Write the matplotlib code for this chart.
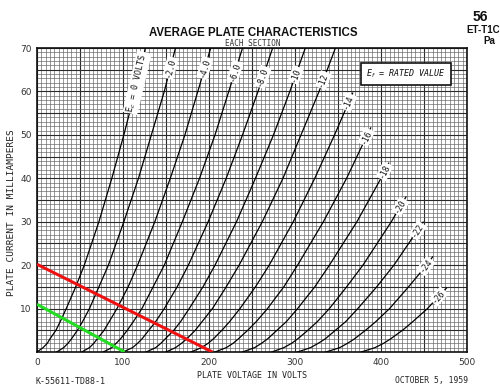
import numpy as np
import matplotlib
matplotlib.use("Agg")
import matplotlib.pyplot as plt

# ---------------- data ----------------
curve_labels = ["E$_c$ = 0 VOLTS", "-2.0", "-4.0", "-6.0", "-8.0", "-10", "-12",
                "-14", "-16", "-18", "-20", "-22", "-24", "-26"]

i_full = [0, 1, 2, 3, 5, 7, 10, 15, 20, 30, 40, 50, 60, 70]
v_ec0 = [0, 7, 12, 15, 22, 27, 34, 45, 55, 72, 87, 101, 114, 126]
v_ec2 = [23, 31, 36, 40, 47, 53, 61, 72, 83, 101, 118, 133, 148, 161]
v_ec4 = [52, 61, 66, 70, 78, 84, 93, 106, 117, 137, 155, 172, 187, 202]
v_ec6 = [77, 87, 92, 97, 105, 112, 122, 135, 148, 169, 189, 207, 223, 239]
v_ec8 = [100, 111, 117, 122, 130, 138, 148, 163, 176, 199, 220, 239, 257, 274]
v_ec10 = [127, 138, 144, 149, 159, 167, 177, 193, 207, 232, 254, 275, 294, 312]
v_ec12 = [150, 161, 168, 174, 184, 192, 204, 220, 235, 262, 286, 307, 328, 347]
i_ec14 = [0, 1, 2, 3, 5, 7, 10, 15, 20, 30, 40, 50, 59.6]
v_ec14 = [179, 191, 199, 205, 215, 224, 236, 254, 270, 298, 323, 346, 367]
i_ec16 = [0, 1, 2, 3, 5, 7, 10, 15, 20, 30, 40, 50, 51.6]
v_ec16 = [207, 220, 228, 234, 245, 255, 268, 287, 303, 333, 360, 384, 388]
i_ec18 = [0, 1, 2, 3, 5, 7, 10, 15, 20, 30, 40, 43.5]
v_ec18 = [239, 253, 261, 268, 279, 290, 303, 323, 340, 372, 400, 409]
i_ec20 = [0, 1, 2, 3, 5, 7, 10, 15, 20, 30, 35.7]
v_ec20 = [273, 287, 296, 303, 315, 326, 340, 360, 379, 412, 429]
i_ec22 = [0, 1, 2, 3, 5, 7, 10, 15, 20, 29.9]
v_ec22 = [303, 318, 327, 335, 347, 359, 373, 395, 415, 449]
i_ec24 = [0, 1, 2, 3, 5, 7, 10, 15, 20, 21.9]
v_ec24 = [336, 352, 361, 369, 382, 394, 410, 432, 453, 460]
i_ec26 = [0, 1, 2, 3, 5, 7, 10, 14.7]
v_ec26 = [377, 393, 403, 411, 425, 437, 454, 476]

red_v = [0, 204]
red_i = [20.2, 0]
green_v = [0, 102]
green_i = [11.0, 0]

x_ticks = [0, 100, 200, 300, 400, 500]
y_ticks = [10, 20, 30, 40, 50, 60, 70]

# label anchor (current along each curve where the label sits)
label_at_i = [62, 65.4, 65.4, 64.5, 63.3, 63.8, 62.6, 57.5, 49.5, 41.6, 33.5, 28.0, 19.8, 12.8]

curves = [
    (v_ec0, i_full), (v_ec2, i_full), (v_ec4, i_full), (v_ec6, i_full),
    (v_ec8, i_full), (v_ec10, i_full), (v_ec12, i_full),
    (v_ec14, i_ec14), (v_ec16, i_ec16), (v_ec18, i_ec18), (v_ec20, i_ec20),
    (v_ec22, i_ec22), (v_ec24, i_ec24), (v_ec26, i_ec26),
]

# ---------------- figure ----------------
W, H = 500, 388
fig = plt.figure(figsize=(W / 100, H / 100), dpi=100)
fig.patch.set_facecolor("white")

x0, x1, ytop, ybot = 37, 467, 48, 352
ax = fig.add_axes([x0 / W, 1 - ybot / H, (x1 - x0) / W, (ybot - ytop) / H])
ax.set_xlim(0, 500)
ax.set_ylim(0, 70)

# grid
for v in np.arange(0, 501, 5):
    major = (v % 50 == 0)
    ax.axvline(v, color="#2a2a2a" if major else "#606060",
               lw=0.8 if major else 0.45, zorder=1)
for c in np.arange(0, 71, 1):
    major = (c % 5 == 0)
    ax.axhline(c, color="#2a2a2a" if major else "#606060",
               lw=0.8 if major else 0.45, zorder=1)

for sp in ax.spines.values():
    sp.set_linewidth(1.2)
    sp.set_color("#111111")

ax.set_xticks(x_ticks)
ax.set_yticks(y_ticks)
ax.tick_params(length=0, labelsize=6.5, colors="#333333", pad=4)

# curves
for (vv, ii) in curves:
    ax.plot(vv, ii, color="black", lw=0.9, zorder=3)

# load lines
ax.plot(red_v, red_i, color="#ee1111", lw=2.2, zorder=4, solid_capstyle="butt")
ax.plot(green_v, green_i, color="#22dd22", lw=2.2, zorder=4, solid_capstyle="butt")

# curve labels
fig.canvas.draw()
mono = "DejaVu Sans Mono"
for (vv, ii), lab, li in zip(curves, curve_labels, label_at_i):
    vpos = np.interp(li, ii, vv)
    va_ = np.interp(li - 2, ii, vv)
    vb_ = np.interp(li + 2, ii, vv)
    pa = ax.transData.transform((va_, li - 2))
    pb = ax.transData.transform((vb_, li + 2))
    ang = np.degrees(np.arctan2(pb[1] - pa[1], pb[0] - pa[0]))
    ax.text(vpos, li, lab, rotation=ang, rotation_mode="anchor",
            ha="center", va="center", fontsize=5.8 if li != 62 else 6.0,
            family=mono, color="#111111", zorder=5,
            bbox=dict(boxstyle="square,pad=0.15", fc="white", ec="none"))

# Ef box
ax.text(429, 64, "E$_f$ = RATED VALUE", ha="center", va="center",
        fontsize=6.0, family=mono, style="italic", color="#111111", zorder=6,
        bbox=dict(boxstyle="square,pad=0.6", fc="white", ec="#111111", lw=1.2))

# axis titles
ax.set_xlabel("PLATE VOLTAGE IN VOLTS", family=mono, fontsize=6.0,
              color="#222222", labelpad=3)
ax.set_ylabel("PLATE CURRENT IN MILLIAMPERES", family=mono, fontsize=6.8,
              color="#222222")
ax.yaxis.set_label_coords(-0.049, 0.457)

# header texts
fig.text(253 / W, 1 - 33 / H, "AVERAGE PLATE CHARACTERISTICS", ha="center",
         va="center", fontsize=8.3, fontweight="bold",
         family="Liberation Sans", color="#111111")
fig.text(253 / W, 1 - 44 / H, "EACH SECTION", ha="center", va="center",
         fontsize=5.5, family=mono, color="#333333")
fig.text(473 / W, 1 - 17 / H, "56", ha="left", va="center", fontsize=10,
         fontweight="bold", family="Liberation Sans", color="#111111")
fig.text(466 / W, 1 - 30 / H, "ET-T1C", ha="left", va="center", fontsize=7,
         fontweight="bold", family="Liberation Sans", color="#111111")
fig.text(483 / W, 1 - 41 / H, "Pa", ha="left", va="center", fontsize=7,
         fontweight="bold", family="Liberation Sans", color="#111111")

# footer texts
fig.text(35 / W, 1 - 381 / H, "K-55611-TD88-1", ha="left", va="center",
         fontsize=6.0, family=mono, color="#222222")
fig.text(468 / W, 1 - 380 / H, "OCTOBER 5, 1959", ha="right", va="center",
         fontsize=5.8, family=mono, color="#222222")

fig.savefig("out.png", dpi=100, facecolor="white")
